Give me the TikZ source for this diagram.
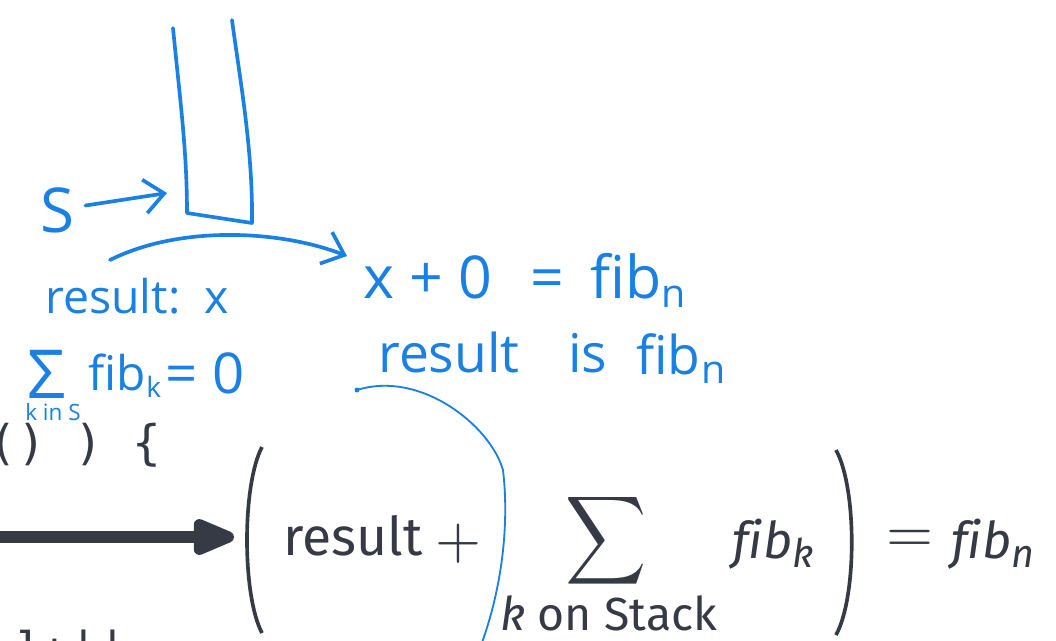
\documentclass[tikz,border=0pt]{standalone}
\usepackage{fontspec}
\setmainfont{Fira Sans}[Ligatures=NoCommon]
\setmonofont{DejaVu Sans Mono}
\newfontfamily\handfont{Open Sans}[Ligatures=NoCommon]
\usetikzlibrary{arrows.meta}

\definecolor{slidegray}{HTML}{363A45}
\definecolor{penblue}{HTML}{1A80E4}

\tikzset{
  pen/.style={penblue, line width=2.6pt, line cap=round, line join=round},
  thinpen/.style={penblue, line width=1.3pt, line cap=round},
  scribble/.style={penblue, inner sep=0pt, font=\handfont\fontsize{#1}{#1}\selectfont},
  slidetext/.style={slidegray, inner sep=0pt, font=\fontsize{#1}{#1}\selectfont},
  code/.style={slidegray, inner sep=0pt, font=\ttfamily\fontsize{34}{34}\selectfont},
  barb/.style={-{Straight Barb[length=14pt,width=24pt]}}
}

\begin{document}
\begin{tikzpicture}[x=0.025cm,y=-0.025cm]
\useasboundingbox (0,0) rectangle (1056,640);
\clip (0,0) rectangle (1056,640);
\fill[white] (0,0) rectangle (1056,640);

\node[code, anchor=base west] (codetop) at (-12,459) {() ) \{};
\node[code, anchor=base west] (codebot) at (-17,666) {-]+||;};

\draw[pen] (173,28) .. controls (180,100) and (187,150) .. (187,213) -- (252,223)
  .. controls (253,150) and (240,80) .. (232,20);

\node[scribble=44, anchor=base] (s) at (57,232) {S};
\coordinate (stk) at (167,193);
\draw[pen, barb, shorten <=8pt] (s) -- (stk);

\coordinate (cstart) at (110,260);
\coordinate (cend) at (347,256);
\draw[pen, barb] (cstart) .. controls (180,225) and (280,230) .. (cend);

\node[scribble=33, anchor=base west] (res) at (45,313) {result:\ \ x};
\node[scribble=48, anchor=base west] (sig) at (27,398) {Σ};
\node[scribble=16, anchor=base west] (kins) at (25,420) {k in S};
\node[scribble=34, anchor=base west] (fibk) at (88,390) {fib};
\node[scribble=20, anchor=base west] (fibksub) at ([yshift=-5pt]fibk.base east) {k};
\node[scribble=40, anchor=base west] (zero) at (165,393) {= 0};

\node[scribble=42, anchor=base west] (xz) at (363,298) {x + 0};
\node[scribble=42, anchor=base west] (xzeq) at (530,298) {=};
\node[scribble=42, anchor=base west] (xzfib) at (590,298) {fib};
\node[scribble=28, anchor=base west] (xzsub) at ([yshift=-7pt]xzfib.base east) {n};
\node[scribble=38, anchor=base west] (ris) at (378,372) {result};
\node[scribble=38, anchor=base west] (is) at (568,372) {is};
\node[scribble=38, anchor=base west] (risfib) at (636,374) {fib};
\node[scribble=28, anchor=base west] (rissub) at ([yshift=-7pt]risfib.base east) {n};

\coordinate (hook) at (357,390);
\coordinate (tail) at (480,648);
\fill[penblue] (hook) circle (2.5);
\draw[thinpen] (hook) .. controls (420,370) and (490,425) .. (503,470)
  .. controls (510,530) and (500,595) .. (tail);

\coordinate (ain) at (-10,537);
\coordinate (aout) at (234,537);
\draw[slidegray, line width=8pt, -{Triangle[length=36pt,width=27pt,round]}] (ain) -- (aout);

\draw[slidegray, line width=2.6pt] (262,447) .. controls (242,485) and (242,595) .. (262,633);
\draw[slidegray, line width=2.6pt] (836,450) .. controls (857,488) and (857,597) .. (836,635);

\node[slidetext=38, anchor=base west] (result) at (283,555) {result};
\node[slidegray, inner sep=0pt] (plus) at (458,544) {\scalebox{4.2}{$+$}};
\node[slidegray, inner sep=0pt] (sum) at (606,541) {\scalebox{4.0}[4.4]{$\displaystyle\sum$}};
\node[slidetext=33, anchor=base west] (onstack) at (500,630) {\textit{k} on Stack};
\node[slidetext=36, anchor=base west] (fib) at (732,558) {\textit{fib}};
\node[slidetext=28, anchor=base west] (fibsub) at ([yshift=-7pt]fib.base east) {\textit{k}};
\node[slidegray, inner sep=0pt] (eq) at (910,541) {\scalebox{4.3}{$=$}};
\node[slidetext=36, anchor=base west] (fibn) at (951,558) {\textit{fib}};
\node[slidetext=28, anchor=base west] (fibnsub) at ([yshift=-7pt]fibn.base east) {\textit{n}};
\end{tikzpicture}
\end{document}
